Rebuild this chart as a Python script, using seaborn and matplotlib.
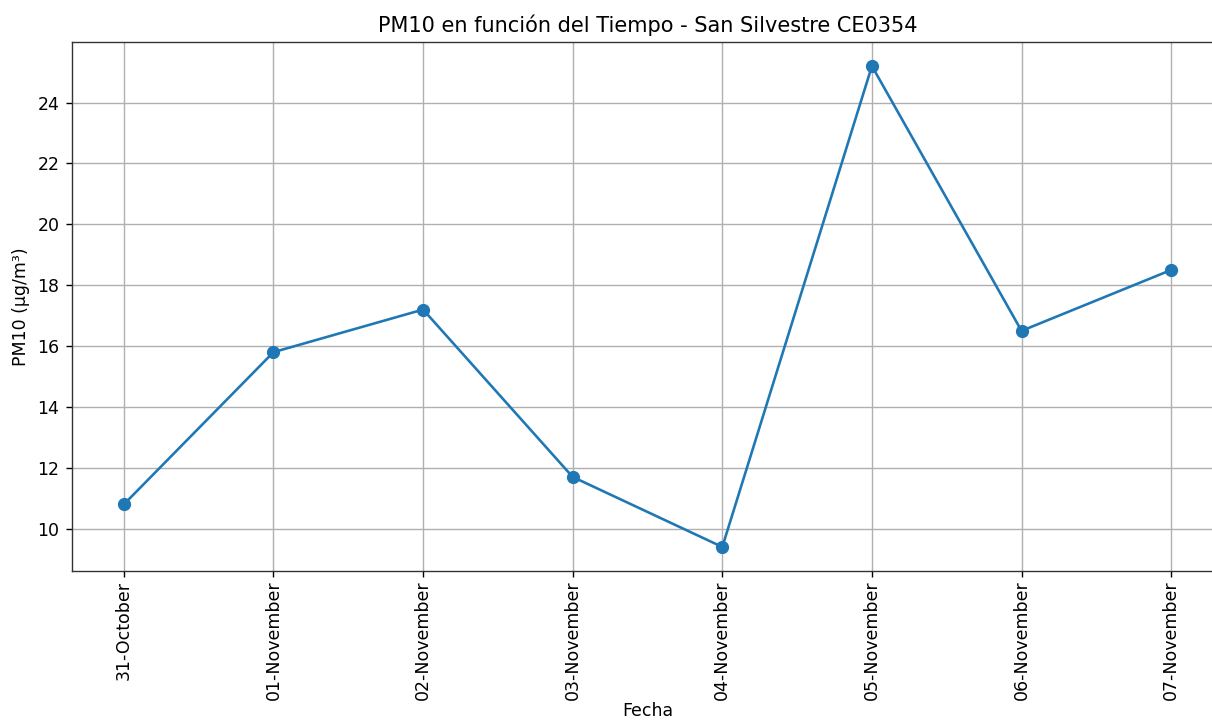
import matplotlib
matplotlib.use("Agg")
import matplotlib.pyplot as plt
import seaborn as sns
import pandas as pd

fechas = ["31-October", "01-November", "02-November", "03-November",
          "04-November", "05-November", "06-November", "07-November"]
pm10 = [10.8, 15.8, 17.2, 11.7, 9.4, 25.2, 16.5, 18.5]

df = pd.DataFrame({"Fecha": fechas, "PM10": pm10})

s = 1.25
plt.rcParams.update({
    "font.size": 10 * s,
    "axes.linewidth": 0.8 * s,
    "xtick.major.size": 3.5 * s,
    "ytick.major.size": 3.5 * s,
    "xtick.major.width": 0.8 * s,
    "ytick.major.width": 0.8 * s,
    "axes.edgecolor": "#333333",
})

fig = plt.figure(figsize=(12.12, 7.23), dpi=100)
W, H = 1212, 723
ax = fig.add_axes([71.5 / W, 1 - 571 / H, (1223.5 - 71.5) / W, (571 - 42) / H])

sns.lineplot(data=df, x="Fecha", y="PM10", marker="o", markersize=6.8 * s,
             color="#1f77b4", markeredgecolor="#1f77b4", markeredgewidth=1.0,
             linewidth=1.5 * s, sort=False, ax=ax)

ax.set_title("PM10 en función del Tiempo - San Silvestre CE0354",
             fontsize=12 * s, pad=6 * s)
ax.set_xlabel("Fecha", fontsize=10 * s, labelpad=1)
ax.set_ylabel("PM10 (µg/m³)", fontsize=10 * s, labelpad=4 * s)
ax.tick_params(axis="y", labelsize=10 * s, pad=3.5 * s)
ax.tick_params(axis="x", labelsize=10 * s, pad=2.5)
ax.grid(True, color="#b0b0b0", linewidth=0.8 * s)
ax.set_axisbelow(True)
plt.setp(ax.get_xticklabels(), rotation=90)

fig.savefig("out.png", dpi=100)
